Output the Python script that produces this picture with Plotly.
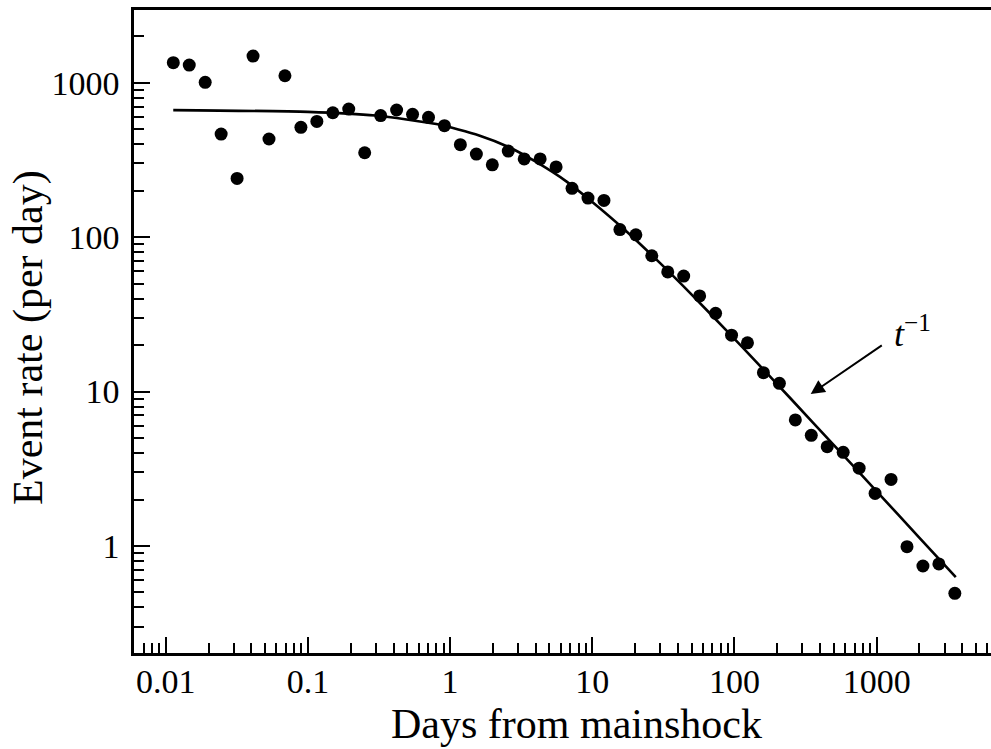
import math
import plotly.graph_objects as go

# Binned aftershock rate: time since mainshock (days) and events per day
days = [0.01131, 0.01464, 0.01895, 0.02454, 0.03177, 0.04113, 0.05325, 0.06894,
        0.08929, 0.1156, 0.1497, 0.1937, 0.2508, 0.3248, 0.4205, 0.5444,
        0.7049, 0.9125, 1.181, 1.530, 1.981, 2.565, 3.320, 4.298,
        5.565, 7.205, 9.328, 12.08, 15.64, 20.25, 26.21, 33.93,
        43.93, 56.88, 73.64, 95.35, 123.4, 159.8, 206.9, 267.9,
        346.8, 449.0, 581.3, 752.6, 974.5, 1262, 1634, 2115,
        2738, 3545]
rate = [1348, 1302, 1006, 465, 240, 1489, 432, 1110,
        514, 562, 639, 675, 352, 613, 666, 624,
        597, 527, 397, 345, 294, 361, 321, 321,
        285, 207, 179, 173, 112, 103.5, 75.8, 59.5,
        56.0, 41.6, 32.1, 23.2, 20.7, 13.25, 11.3, 6.55,
        5.21, 4.40, 4.04, 3.19, 2.19, 2.70, 0.990, 0.742,
        0.765, 0.494]

# Fitted decay curve
fit_days = [0.0113, 0.1, 0.3, 0.8, 1.6, 2.6, 4.0, 6.6, 10, 17.5, 30, 51, 88,
            150, 250, 500, 1000, 2000, 3600]
fit_rate = [665, 648, 613, 540, 455, 382, 308, 229, 169, 108.5, 67.9, 41.7, 24.8,
            14.8, 8.95, 4.50, 2.26, 1.13, 0.629]

x_major = [0.01, 0.1, 1, 10, 100, 1000]
x_major_text = ["0.01", "0.1", "1", "10", "100", "1000"]
y_major = [1, 10, 100, 1000]
y_major_text = ["1", "10", "100", "1000"]

x_range = [-2.223, 3.804]
y_range = [-0.693, 3.471]

x_minor = [m * 10 ** e for e in range(-3, 4) for m in range(2, 10)
           if x_range[0] <= math.log10(m * 10 ** e) <= x_range[1]]
y_minor = [m * 10 ** e for e in range(-1, 4) for m in range(2, 10)
           if y_range[0] <= math.log10(m * 10 ** e) <= y_range[1]]

serif = "Liberation Serif, Times New Roman, serif"

fig = go.Figure()
fig.add_trace(go.Scatter(
    x=fit_days, y=fit_rate, mode="lines",
    line=dict(color="black", width=2.6, shape="spline", smoothing=0.6),
    hoverinfo="skip", showlegend=False,
))
fig.add_trace(go.Scatter(
    x=days, y=rate, mode="markers",
    marker=dict(color="black", size=13, symbol="circle", line=dict(width=0)),
    showlegend=False,
))

axis_common = dict(
    type="log",
    showgrid=False, zeroline=False,
    showline=True, linecolor="black", linewidth=2.5,
    ticks="inside", ticklen=16, tickwidth=2, tickcolor="black",
    tickfont=dict(family=serif, size=34, color="black"),
)

fig.update_xaxes(
    **axis_common,
    range=x_range, mirror=True,
    tickvals=x_major, ticktext=x_major_text,
    ticklabelstandoff=-4,
    minor=dict(ticks="inside", ticklen=10, tickwidth=2, tickcolor="black",
               tickvals=x_minor, showgrid=False),
)
fig.update_yaxes(
    **axis_common,
    range=y_range, mirror=False,
    tickvals=y_major, ticktext=y_major_text,
    ticklabelstandoff=5,
    minor=dict(ticks="inside", ticklen=10, tickwidth=2, tickcolor="black",
               tickvals=y_minor, showgrid=False),
)

# Arrow pointing to the power-law tail
fig.add_annotation(
    x=math.log10(343.5), y=math.log10(9.64),
    ax=math.log10(1113), ay=math.log10(20.2),
    xref="x", yref="y", axref="x", ayref="y",
    text="", showarrow=True, arrowhead=2, arrowsize=1.4,
    arrowwidth=2, arrowcolor="black",
)
fig.add_annotation(
    x=math.log10(1290), y=math.log10(24.5),
    xref="x", yref="y", xanchor="left", yanchor="middle",
    text="<i>t</i><sup>\u22121</sup>", showarrow=False,
    font=dict(family=serif, size=36, color="black"),
)

# Axis titles
fig.add_annotation(
    x=0.5163, y=-0.1104, xref="paper", yref="paper",
    xanchor="center", yanchor="middle",
    text="Days from mainshock", showarrow=False,
    font=dict(family=serif, size=42, color="black"),
)
fig.add_annotation(
    x=-0.1225, y=0.4899, xref="paper", yref="paper",
    xanchor="center", yanchor="middle", textangle=-90,
    text="Event rate (per day)", showarrow=False,
    font=dict(family=serif, size=42, color="black"),
)

fig.update_layout(
    width=991, height=749,
    margin=dict(l=134, r=0, t=10, b=96),
    paper_bgcolor="white", plot_bgcolor="white",
    showlegend=False,
)

fig.write_html("out.html")
